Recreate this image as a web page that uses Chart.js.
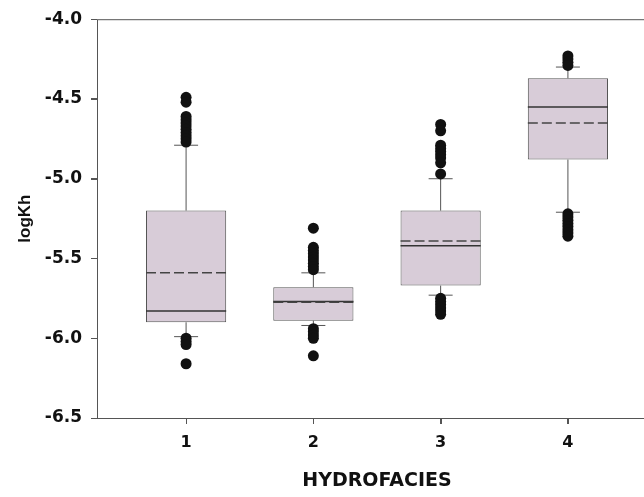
<!DOCTYPE html>
<html>
<head>
<meta charset="utf-8">
<script src="https://cdn.jsdelivr.net/npm/chart.js@4.4.1/dist/chart.umd.min.js"></script>
<style>
html, body { margin: 0; padding: 0; background: #fff; overflow: hidden; }
#wrap { width: 644px; height: 497px; overflow: hidden; }
</style>
</head>
<body>
<div id="wrap"><canvas id="myChart" width="664" height="497"></canvas></div>
<script>
// box plot values (logKh per hydrofacies)
const facies = [1, 2, 3, 4];
const q1 = [-5.90, -5.89, -5.67, -4.88];
const q3 = [-5.20, -5.68, -5.20, -4.37];
const medians = [-5.83, -5.77, -5.42, -4.55];
const means = [-5.59, -5.775, -5.39, -4.65];
const whiskLow = [-5.99, -5.92, -5.73, -5.21];
const whiskHigh = [-4.79, -5.59, -5.00, -4.30];
const outliers = [
  [-4.49, -4.52, -4.61, -4.63, -4.65, -4.67, -4.69, -4.71, -4.73, -4.75, -4.77, -6.00, -6.02, -6.04, -6.16],
  [-5.31, -5.43, -5.45, -5.47, -5.49, -5.51, -5.53, -5.55, -5.57, -5.94, -5.96, -5.98, -6.00, -6.11],
  [-4.66, -4.70, -4.79, -4.81, -4.83, -4.85, -4.87, -4.90, -4.97, -5.75, -5.77, -5.79, -5.81, -5.83, -5.85],
  [-4.23, -4.25, -4.27, -4.29, -5.22, -5.24, -5.26, -5.28, -5.30, -5.32, -5.34, -5.36]
];
const yTicks = [-4.0, -4.5, -5.0, -5.5, -6.0, -6.5];

let canva = document.getElementById('myChart').getContext('2d');

const boxData = facies.map((f, i) => ({ x: f, y: [q1[i], q3[i]] }));
const outlierData = [];
facies.forEach((f, i) => {
  outliers[i].forEach(v => outlierData.push({ x: f, y: v }));
});

// whiskers, caps, median and mean drawn over the box bars
const boxExtras = {
  id: 'boxExtras',
  afterDatasetDraw(chart, args) {
    if (args.index !== 0) return;
    const ctx = chart.ctx;
    const ys = chart.scales.y;
    const capHalf = 12;
    ctx.save();
    args.meta.data.forEach((bar, i) => {
      const x = bar.x;
      const half = bar.width / 2;
      // whiskers
      ctx.strokeStyle = '#555';
      ctx.lineWidth = 1;
      ctx.setLineDash([]);
      ctx.beginPath();
      ctx.moveTo(x, ys.getPixelForValue(q3[i]));
      ctx.lineTo(x, ys.getPixelForValue(whiskHigh[i]));
      ctx.moveTo(x, ys.getPixelForValue(q1[i]));
      ctx.lineTo(x, ys.getPixelForValue(whiskLow[i]));
      ctx.moveTo(x - capHalf, ys.getPixelForValue(whiskHigh[i]));
      ctx.lineTo(x + capHalf, ys.getPixelForValue(whiskHigh[i]));
      ctx.moveTo(x - capHalf, ys.getPixelForValue(whiskLow[i]));
      ctx.lineTo(x + capHalf, ys.getPixelForValue(whiskLow[i]));
      ctx.stroke();
      // median
      ctx.strokeStyle = '#333';
      ctx.lineWidth = 1.5;
      ctx.beginPath();
      ctx.moveTo(x - half, ys.getPixelForValue(medians[i]));
      ctx.lineTo(x + half, ys.getPixelForValue(medians[i]));
      ctx.stroke();
      // mean
      ctx.strokeStyle = '#444';
      ctx.setLineDash([10, 4]);
      ctx.beginPath();
      ctx.moveTo(x - half, ys.getPixelForValue(means[i]));
      ctx.lineTo(x + half, ys.getPixelForValue(means[i]));
      ctx.stroke();
    });
    ctx.restore();
  }
};

// frame round the plot area, plus outward tick marks
const frame = {
  id: 'frame',
  afterDraw(chart) {
    const a = chart.chartArea;
    const ctx = chart.ctx;
    const xs = chart.scales.x;
    const ys = chart.scales.y;
    ctx.save();
    ctx.strokeStyle = '#555';
    ctx.lineWidth = 1;
    ctx.strokeRect(a.left + 0.5, a.top + 0.5, a.right - a.left, a.bottom - a.top);
    ctx.beginPath();
    xs.ticks.forEach(t => {
      const px = Math.round(xs.getPixelForValue(t.value)) + 0.5;
      ctx.moveTo(px, a.bottom);
      ctx.lineTo(px, a.bottom + 6);
    });
    ys.ticks.forEach(t => {
      const py = Math.round(ys.getPixelForValue(t.value)) + 0.5;
      ctx.moveTo(a.left, py);
      ctx.lineTo(a.left - 6, py);
    });
    ctx.stroke();
    ctx.restore();
  }
};

new Chart(canva, {
  type: 'bar',
  data: {
    datasets: [
      {
        type: 'bar',
        data: boxData,
        backgroundColor: '#d8ccd8',
        borderColor: '#555',
        borderWidth: 1,
        borderSkipped: false,
        categoryPercentage: 0.9,
        barPercentage: 0.7,
        order: 2
      },
      {
        type: 'scatter',
        data: outlierData,
        pointRadius: 5.5,
        pointBackgroundColor: '#111',
        pointBorderWidth: 0,
        order: 1
      }
    ]
  },
  options: {
    responsive: false,
    animation: false,
    layout: { padding: { top: 14, right: 7, left: 0, bottom: 0 } },
    plugins: { legend: { display: false }, tooltip: { enabled: false } },
    scales: {
      x: {
        type: 'linear',
        offset: false,
        min: 0.3,
        max: 4.7,
        afterBuildTicks: s => { s.ticks = facies.map(v => ({ value: v })); },
        afterFit: s => { s.height = 79; },
        grid: { offset: false, drawOnChartArea: false, tickLength: 6, tickColor: '#555' },
        border: { display: false },
        ticks: {
          color: '#111',
          padding: 9,
          font: { family: 'DejaVu Sans', weight: 'bold', size: 16 }
        },
        title: {
          display: true,
          text: 'HYDROFACIES',
          color: '#111',
          padding: { top: 0, bottom: 5 },
          font: { family: 'DejaVu Sans', weight: 'bold', size: 19 }
        }
      },
      y: {
        min: -6.5,
        max: -4.0,
        afterBuildTicks: s => { s.ticks = yTicks.map(v => ({ value: v })); },
        afterFit: s => { s.width = 97; },
        grid: { drawOnChartArea: false, tickLength: 6, tickColor: '#555' },
        border: { display: false },
        ticks: {
          color: '#111',
          padding: 9,
          callback: v => v.toFixed(1),
          font: { family: 'DejaVu Sans', weight: 'bold', size: 17 }
        },
        title: {
          display: true,
          text: 'logKh',
          color: '#111',
          padding: { top: 15, bottom: 0 },
          font: { family: 'Liberation Sans', weight: 'bold', size: 17 }
        }
      }
    }
  },
  plugins: [boxExtras, frame]
});
</script>
</body>
</html>
